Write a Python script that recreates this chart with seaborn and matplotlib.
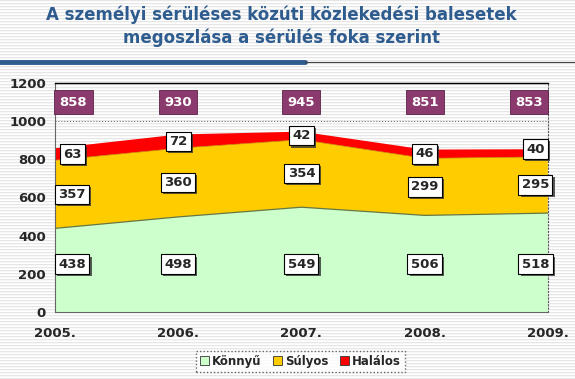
import numpy as np
import matplotlib
matplotlib.use("Agg")
import matplotlib.pyplot as plt
import matplotlib.patheffects as pe
import seaborn as sns
import pandas as pd

years = ["2005.", "2006.", "2007.", "2008.", "2009."]
konnyu = [438, 498, 549, 506, 518]
sulyos = [357, 360, 354, 299, 295]
halalos = [63, 72, 42, 46, 40]
totals = [858, 930, 945, 851, 853]
series_names = ["Könnyű", "Súlyos", "Halálos"]
colors = ["#CCFFCC", "#FFCC00", "#FF0000"]
title = "A személyi sérüléses közúti közlekedési balesetek\nmegoszlása a sérülés foka szerint"

sns.set_style("white")
plt.rcParams['font.family'] = ['DejaVu Sans']

fig = plt.figure(figsize=(5.75, 3.79), dpi=100)

# striped background
bg = fig.add_axes([0, 0, 1, 1], zorder=-10)
stripes = np.ones((379, 1))
stripes[::3] = 0.90
stripes[1::3] = 0.97
bg.imshow(np.repeat(stripes, 2, axis=1), cmap="gray", vmin=0, vmax=1, aspect="auto", interpolation="nearest")
bg.axis("off")

# title and rule
fig.text(0.49, 0.985, title, ha="center", va="top", fontsize=12, fontweight="bold",
         color="#2E5C8F", linespacing=1.3)
fig.add_artist(plt.Line2D([0, 0.53], [0.836, 0.836], color="#2E5C8F", lw=3.5))
fig.add_artist(plt.Line2D([0.53, 1], [0.836, 0.836], color="#444444", lw=0.8))

ax = fig.add_axes([0.0957, 0.177, 0.857, 0.604])
ax.patch.set_alpha(0)
x = np.arange(len(years))
b1 = np.array(konnyu)
b2 = b1 + np.array(sulyos)
df = pd.DataFrame({"x": x, "b1": b1, "b2": b2})
sns.lineplot(data=df, x="x", y="b1", color="#667744", lw=0.9, ax=ax, zorder=3)
sns.lineplot(data=df, x="x", y="b2", color="#CC8800", lw=0.5, ax=ax, zorder=3)
polys = ax.stackplot(x, konnyu, sulyos, halalos, colors=colors, labels=series_names,
                     edgecolor="none", zorder=2)
if ax.get_legend() is not None:
    ax.get_legend().remove()

ax.set_xlim(0, 4)
ax.set_ylim(0, 1200)
ax.set_yticks(range(0, 1201, 200))
ax.set_xticks(x)
ax.set_xticklabels(years)
ax.set_xlabel("")
ax.set_ylabel("")
ax.axhline(1000, color="#555555", lw=0.7, ls=(0, (1, 2)), zorder=1)
for s in ["left", "bottom"]:
    ax.spines[s].set_color("#666666")
    ax.spines[s].set_linewidth(0.8)
ax.spines["top"].set_color("black")
ax.spines["top"].set_linewidth(1.0)
ax.spines["right"].set_color("#555555")
ax.spines["right"].set_linestyle((0, (1, 2)))
ax.tick_params(axis="both", labelsize=9.5, length=3, width=0.8, color="#666666", direction="out")
ax.tick_params(axis="x", pad=8)
for lab in ax.get_xticklabels() + ax.get_yticklabels():
    lab.set_fontweight("bold")

shift = [0.14, 0, 0, 0, -0.10]
box = dict(boxstyle="square,pad=0.25", fc="white", ec="black", lw=0.8)
shadow = [pe.SimplePatchShadow(offset=(1.5, -1.5), shadow_rgbFace="#333333", alpha=0.8), pe.Normal()]
texts = []
for i in x:
    xi = i + shift[i]
    texts.append(ax.text(xi, 250, str(konnyu[i]), ha="center", va="center", fontsize=9.5,
                         fontweight="bold", bbox=box, zorder=5))
    texts.append(ax.text(xi, konnyu[i] + sulyos[i] / 2, str(sulyos[i]), ha="center",
                         va="center", fontsize=9.5, fontweight="bold", bbox=box, zorder=5))
    texts.append(ax.text(xi, b2[i] + halalos[i] / 2 + (20 if i == 4 else 0), str(halalos[i]),
                         ha="center", va="center", fontsize=9.5, fontweight="bold", bbox=box,
                         zorder=5))
    ax.text(i + (0.15 if i == 0 else (-0.15 if i == 4 else 0)), 1100, str(totals[i]),
            ha="center", va="center", fontsize=9.5, fontweight="bold", color="white",
            bbox=dict(boxstyle="square,pad=0.4", fc="#8B3A6E", ec="#5A2048", lw=0.6), zorder=5)
for t in texts:
    t.get_bbox_patch().set_path_effects(shadow)

leg = fig.legend(polys, series_names, loc="center", bbox_to_anchor=(0.523, 0.047), ncol=3,
                 frameon=True, fontsize=8.5, handlelength=0.7, handleheight=0.7,
                 handletextpad=0.3, columnspacing=1.0, borderpad=0.35, fancybox=False)
leg.get_frame().set_edgecolor("#444444")
leg.get_frame().set_linestyle((0, (1, 1.5)))
leg.get_frame().set_facecolor("white")
for h in leg.legend_handles:
    h.set_edgecolor("#333333")
    h.set_linewidth(0.6)
for t in leg.get_texts():
    t.set_fontweight("bold")

fig.savefig("out.png", dpi=100)
